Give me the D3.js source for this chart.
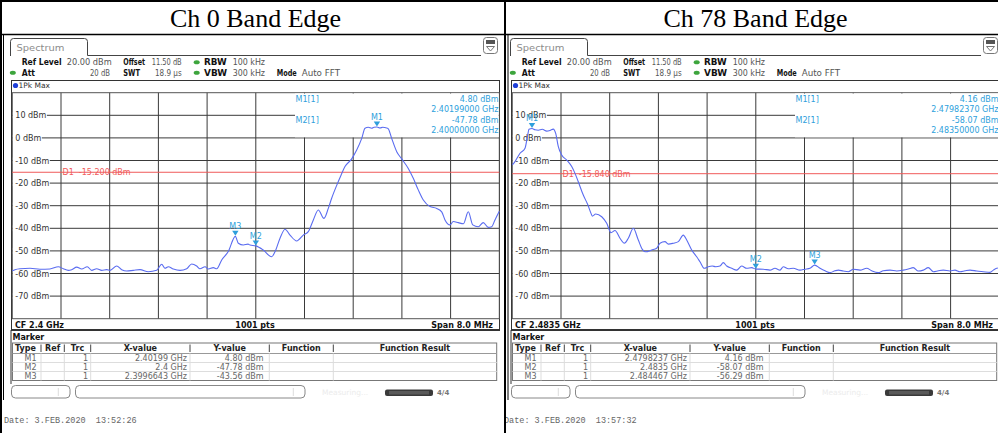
<!DOCTYPE html>
<html><head><meta charset="utf-8">
<script src="https://cdn.jsdelivr.net/npm/d3@7"></script>
<style>
body{margin:0;background:#fff;}
svg{display:block;}
text{font-family:"DejaVu Sans",Verdana,sans-serif;}
</style></head><body>
<svg id="c" width="998" height="433"></svg>
<script>
// ---------------- data ----------------
const titles = ["Ch 0 Band Edge", "Ch 78 Band Edge"];
const cfLabels = ["CF 2.4 GHz", "CF 2.4835 GHz"];
const spanLabel = "Span 8.0 MHz";
const ptsLabel = "1001 pts";
const yTicks = [10, 0, -10, -20, -30, -40, -50, -60, -70];
const xDivs = [-3.2, -2.4, -1.6, -0.8, 0, 0.8, 1.6, 2.4, 3.2]; // MHz offsets from CF
const limitLevels = [-15.2, -15.84];
const limitLabels = ["D1  -15.200 dBm", "D1  -15.840 dBm"];
const dates = ["Date: 3.FEB.2020  13:52:26", "Date: 3.FEB.2020  13:57:32"];
const settingsRow1 = [["Ref Level","20.00 dBm"],["Offset","11.50 dB"],["RBW","100 kHz"]];
const settingsRow2 = [["Att","20 dB"],["SWT","18.9 µs"],["VBW","300 kHz"],["Mode","Auto FFT"]];

// trace 1, [MHz offset from CF, dBm]
const ch0Trace = [
 [-4.0,-58.8],[-3.956,-58.3],[-3.873,-57.9],[-3.709,-57.7],[-3.545,-58.1],[-3.381,-58.0],[-3.244,-57.0],
 [-3.162,-57.9],[-3.080,-58.6],[-3.024,-58.3],[-2.942,-57.2],[-2.860,-58.0],[-2.768,-57.0],[-2.696,-58.6],
 [-2.614,-57.9],[-2.531,-58.6],[-2.449,-58.3],[-2.395,-58.6],[-2.285,-56.7],[-2.203,-58.3],[-2.121,-58.9],
 [-2.012,-58.6],[-1.902,-58.3],[-1.766,-59.2],[-1.628,-58.6],[-1.546,-55.9],[-1.492,-57.7],[-1.437,-57.0],
 [-1.355,-58.0],[-1.245,-58.6],[-1.135,-57.9],[-1.053,-55.8],[-0.971,-56.7],[-0.917,-57.9],[-0.834,-57.0],
 [-0.780,-58.0],[-0.698,-57.4],[-0.642,-57.9],[-0.560,-54.0],[-0.452,-50.3],[-0.336,-43.56],[-0.287,-46.6],
 [-0.205,-47.4],[-0.128,-47.0],[-0.095,-47.4],[0,-47.78],[0.123,-49.6],[0.261,-52.6],[0.315,-50.4],
 [0.398,-44.4],[0.480,-40.4],[0.562,-43.0],[0.672,-45.6],[0.780,-43.0],[0.862,-41.5],[0.945,-36.3],
 [1.027,-31.9],[1.120,-35.6],[1.191,-31.2],[1.245,-26.8],[1.329,-21.0],[1.400,-16.5],[1.465,-12.7],
 [1.575,-9.3],[1.657,-5.4],[1.740,-0.2],[1.794,4.3],[1.848,4.7],[1.904,4.3],[1.942,4.7],[1.990,4.80],
 [2.040,4.4],[2.085,4.7],[2.150,4.4],[2.177,4.0],[2.232,-0.2],[2.315,-6.1],[2.397,-9.3],[2.505,-13.5],
 [2.587,-17.9],[2.669,-23.0],[2.752,-27.5],[2.862,-30.4],[2.972,-31.2],[3.054,-32.7],[3.108,-36.3],
 [3.190,-38.5],[3.244,-37.0],[3.327,-37.5],[3.409,-38.0],[3.491,-32.7],[3.564,-38.5],[3.655,-39.3],
 [3.737,-37.5],[3.819,-39.6],[3.875,-39.3],[3.929,-36.3],[4.0,-32.5]
];
const ch78Trace = [
 [-4.0,-12.0],[-3.956,-10.5],[-3.873,-6.8],[-3.791,-4.6],[-3.747,1.3],[-3.726,3.8],[-3.676,4.16],
 [-3.627,3.6],[-3.573,3.4],[-3.507,3.8],[-3.435,3.0],[-3.381,3.3],[-3.327,3.9],[-3.287,2.0],[-3.244,-3.9],
 [-3.188,-7.6],[-3.106,-9.8],[-3.024,-12.7],[-2.970,-15.7],[-2.916,-19.4],[-2.834,-25.3],[-2.761,-29.5],
 [-2.707,-33.4],[-2.686,-34.6],[-2.630,-33.7],[-2.531,-34.9],[-2.449,-37.8],[-2.379,-41.9],[-2.313,-41.0],
 [-2.231,-44.4],[-2.160,-46.6],[-2.094,-44.4],[-2.012,-40.0],[-1.930,-45.2],[-1.864,-49.3],[-1.809,-50.4],
 [-1.710,-49.6],[-1.628,-48.8],[-1.574,-46.6],[-1.492,-45.9],[-1.437,-47.0],[-1.355,-46.6],[-1.273,-45.9],
 [-1.191,-43.0],[-1.135,-45.2],[-1.053,-49.6],[-0.971,-52.6],[-0.917,-54.8],[-0.846,-57.7],[-0.780,-57.0],
 [-0.715,-56.7],[-0.659,-57.0],[-0.588,-56.7],[-0.534,-55.2],[-0.478,-56.7],[-0.396,-57.7],[-0.314,-58.5],
 [-0.232,-56.7],[-0.149,-57.7],[-0.067,-57.4],[0,-58.07],[0.123,-58.1],[0.233,-58.5],[0.315,-57.7],
 [0.398,-58.5],[0.452,-57.0],[0.534,-57.9],[0.616,-57.7],[0.726,-58.5],[0.808,-58.1],[0.890,-57.7],
 [0.967,-56.29],[1.055,-57.7],[1.137,-58.8],[1.219,-59.6],[1.301,-58.8],[1.355,-58.5],[1.437,-58.9],
 [1.519,-59.2],[1.602,-58.1],[1.712,-58.5],[1.822,-57.7],[1.904,-58.8],[2.012,-59.6],[2.094,-58.8],
 [2.205,-58.5],[2.315,-58.9],[2.423,-58.5],[2.505,-58.0],[2.587,-57.4],[2.669,-58.9],[2.752,-58.5],
 [2.834,-57.4],[2.916,-59.2],[2.998,-58.8],[3.080,-58.5],[3.190,-58.9],[3.272,-58.5],[3.354,-59.2],
 [3.437,-58.8],[3.519,-58.5],[3.629,-58.9],[3.737,-59.2],[3.847,-59.5],[3.902,-58.5],[3.957,-57.7],[4.0,-57.5]
];

// markers: [name, MHz offset, dBm]
const ch0Markers = [["M1",1.99,4.80],["M2",0,-47.78],["M3",-0.3357,-43.56]];
const ch78Markers = [["M1",-3.6763,4.16],["M2",0,-58.07],["M3",0.967,-56.29]];
const ch0MarkerInfo = [["M1[1]","4.80 dBm","2.40199000 GHz"],["M2[1]","-47.78 dBm","2.40000000 GHz"]];
const ch78MarkerInfo = [["M1[1]","4.16 dBm","2.47982370 GHz"],["M2[1]","-58.07 dBm","2.48350000 GHz"]];
const tableHeader = ["Type","Ref","Trc","X-value","Y-value","Function","Function Result"];
const ch0Table = [["M1","","1","2.40199 GHz","4.80 dBm"],["M2","","1","2.4 GHz","-47.78 dBm"],["M3","","1","2.3996643 GHz","-43.56 dBm"]];
const ch78Table = [["M1","","1","2.4798237 GHz","4.16 dBm"],["M2","","1","2.4835 GHz","-58.07 dBm"],["M3","","1","2.484467 GHz","-56.29 dBm"]];

// ---------------- drawing ----------------
const svg = d3.select("#c");
svg.append("rect").attr("width",998).attr("height",433).attr("fill","#fff");

const MARK = "#2e9fdc", TRACE = "#5a6cf0", LIMIT = "#f05a5a";

function txt(g, x, y, s, opt={}) {
  const t = g.append("text").attr("x",x).attr("y",y).text(s)
    .style("font-size",(opt.size||8)+"px")
    .attr("fill",opt.fill||"#333")
    .attr("text-anchor",opt.anchor||"start")
    .style("font-weight",opt.bold?"bold":"normal")
    .style("white-space","pre");
  if (opt.family) t.style("font-family",opt.family);
  if (opt.len) t.attr("textLength",opt.len).attr("lengthAdjust","spacingAndGlyphs");
  return t;
}

// layout of the settings header [labelX, labelW, valueX, valueW]
const setPos1 = [[21.7,40,66.7,45],[123.3,21.7,151.7,30],[204,22.7,232.7,32.3]];
const setPos2 = [[21.7,13.3,90,20],[123.3,16.7,155,26.7],[204,23,232.7,32.3],[276.7,20,301.7,38.3]];

function drawPanel(ox, i, trace, markers, info, table) {
  const g = svg.append("g").attr("transform",`translate(${ox},0)`);
  // title
  txt(g, 255.5, 27, titles[i], {size:26, fill:"#000", anchor:"middle", family:"'Liberation Serif','Times New Roman',serif"});

  // spectrum tab
  g.append("path").attr("d","M10.5,56 V41.5 Q10.5,38.5 13.5,38.5 H84.5 Q87.5,38.5 87.5,41.5 V55.5 H481")
    .attr("fill","none").attr("stroke","#444");
  txt(g, 16.5, 51, "Spectrum", {size:9, fill:"#8c8c8c", len:48});
  // top-right icon
  g.append("rect").attr("x",483.5).attr("y",37.5).attr("width",14).attr("height",16).attr("rx",3)
    .attr("fill","#fff").attr("stroke","#777");
  g.append("rect").attr("x",486).attr("y",40).attr("width",9).attr("height",4).attr("fill","#555");
  g.append("path").attr("d","M486.5,46.5 L494.5,46.5 L490.5,51 Z").attr("fill","none").attr("stroke","#777");

  // settings lines
  const r1 = 65.2, r2 = 75.8;
  settingsRow1.forEach((s,k)=>{
    const p = setPos1[k];
    txt(g, p[0], r1, s[0], {bold:true, fill:"#111", len:p[1]});
    txt(g, p[2], r1, s[1], {fill:"#555", len:p[3]});
  });
  settingsRow2.forEach((s,k)=>{
    const p = setPos2[k];
    txt(g, p[0], r2, s[0], {bold:true, fill:"#111", len:p[1]});
    txt(g, p[2], r2, s[1], {fill:"#555", len:p[3]});
  });
  [[196.7,62.3],[196.7,72.8],[12.8,72.8]].forEach(d=>{
    g.append("ellipse").attr("cx",d[0]).attr("cy",d[1]).attr("rx",3).attr("ry",2).attr("fill","#3da53d");
  });

  // scales
  const x = d3.scaleLinear().domain([-4,4]).range([12.3,499.3]);
  const y = d3.scaleLinear().domain([-80,20]).range([318.7,92.7]);

  // diagram box
  g.append("rect").attr("x",11.5).attr("y",80.5).attr("width",488).attr("height",250)
    .attr("fill","#fff").attr("stroke","#333");
  g.append("circle").attr("cx",15.5).attr("cy",85.5).attr("r",2.6).attr("fill","#1f3fd8");
  txt(g, 18.5, 88.3, "1Pk Max", {size:7.5, fill:"#333"});

  // grid
  const grid = g.append("g");
  grid.selectAll("line.v").data(xDivs).join("line").attr("class","v")
    .attr("x1",d=>x(d)).attr("x2",d=>x(d)).attr("y1",y(20)).attr("y2",y(-80))
    .attr("stroke","#3a3a3a").attr("stroke-width",1);
  grid.selectAll("line.h").data(yTicks).join("line").attr("class","h")
    .attr("x1",x(-4)).attr("x2",x(4)).attr("y1",d=>y(d)).attr("y2",d=>y(d))
    .attr("stroke","#3a3a3a").attr("stroke-width",1);
  grid.append("rect").attr("x",x(-4)).attr("y",y(20)).attr("width",x(4)-x(-4)).attr("height",y(-80)-y(20))
    .attr("fill","none").attr("stroke","#555");

  // marker info area masks grid
  g.append("rect").attr("x",295).attr("y",y(20)+0.8).attr("width",x(4)-295-0.6).attr("height",y(0)-y(20)-1.4)
    .attr("fill","#fff");
  info.forEach((row,k)=>{
    const yy = 101.7 + k*20.8;
    txt(g, 295.5, yy, row[0], {fill:MARK});
    txt(g, 498.5, yy, row[1], {fill:MARK, anchor:"end"});
    txt(g, 498.5, yy+10.4, row[2], {fill:MARK, anchor:"end"});
  });

  // y tick labels with white background
  const labs = g.append("g");
  const ts = yTicks.map(v => txt(labs, 15.3, y(v)+3, v+" dBm", {fill:"#333"}));
  ts.forEach((t,k)=>{
    const w = t.node().getComputedTextLength();
    labs.insert("rect","text").attr("x",x(-4)+0.6).attr("y",y(yTicks[k])-3).attr("width",15.3+w+0.5-x(-4)-0.6)
      .attr("height",6).attr("fill","#fff");
  });

  // limit line
  g.append("line").attr("x1",x(-4)).attr("x2",x(4)).attr("y1",y(limitLevels[i])).attr("y2",y(limitLevels[i]))
    .attr("stroke",LIMIT).attr("stroke-width",1);
  txt(g, 62.5, y(limitLevels[i])+3, limitLabels[i], {fill:LIMIT});

  // trace
  const line = d3.line().x(d=>x(d[0])).y(d=>y(d[1])).curve(d3.curveMonotoneX);
  g.append("path").datum(trace).attr("d",line).attr("fill","none").attr("stroke",TRACE).attr("stroke-width",1.1);

  // markers
  markers.forEach(m=>{
    const mx = x(m[1]), my = y(m[2]);
    g.append("path").attr("d",`M${mx-3.2},${my-5.5} L${mx+3.2},${my-5.5} L${mx},${my-0.5} Z`).attr("fill",MARK);
    txt(g, mx, my-7.2, m[0], {fill:MARK, anchor:"middle"});
  });

  // bottom bar
  g.append("line").attr("x1",11.5).attr("x2",499.5).attr("y1",329.5).attr("y2",329.5).attr("stroke","#333");
  txt(g, 15, 327.5, cfLabels[i], {bold:true, fill:"#111"});
  txt(g, 255, 327.5, ptsLabel, {bold:true, fill:"#111", anchor:"middle"});
  txt(g, 493, 327.5, spanLabel, {bold:true, fill:"#111", anchor:"end"});

  // marker table
  txt(g, 12.5, 340, "Marker", {bold:true, fill:"#111"});
  const cols = [12.5, 41, 64.3, 90.7, 190, 269.3, 333.3, 496.7];
  const top = 343, hh = 10.5, rh = 9;
  g.append("rect").attr("x",12.5).attr("y",top).attr("width",496.7-12.5).attr("height",hh+3*rh)
    .attr("fill","#fff").attr("stroke","#777");
  g.append("line").attr("x1",12.5).attr("x2",496.7).attr("y1",top+hh).attr("y2",top+hh).attr("stroke","#999");
  [1,2].forEach(k=>g.append("line").attr("x1",12.5).attr("x2",496.7).attr("y1",top+hh+k*rh).attr("y2",top+hh+k*rh).attr("stroke","#ddd"));
  cols.slice(1,-1).forEach(c=>{
    g.append("line").attr("x1",c).attr("x2",c).attr("y1",top+1.5).attr("y2",top+hh-1.5).attr("stroke","#444");
    g.append("line").attr("x1",c).attr("x2",c).attr("y1",top+hh).attr("y2",top+hh+3*rh).attr("stroke","#ddd");
  });
  tableHeader.forEach((h,k)=>{
    const cx = k===0 ? 15 : (cols[k]+cols[k+1])/2;
    txt(g, cx, top+8, h, {bold:true, fill:"#222", anchor:k===0?"start":"middle"});
  });
  table.forEach((row,r)=>{
    const yy = top+hh+r*rh+7.3;
    txt(g, 36.5, yy, row[0], {fill:"#666", anchor:"end"});
    txt(g, 88, yy, row[2], {fill:"#666", anchor:"end"});
    txt(g, 187, yy, row[3], {fill:"#666", anchor:"end"});
    txt(g, 263.5, yy, row[4], {fill:"#666", anchor:"end"});
  });
  g.append("line").attr("x1",11).attr("x2",11).attr("y1",330).attr("y2",384).attr("stroke","#333");

  // status bar
  g.append("rect").attr("x",11.5).attr("y",385.5).attr("width",58.5).attr("height",12.5).attr("rx",4)
    .attr("fill","#fff").attr("stroke","#888");
  g.append("line").attr("x1",58.3).attr("x2",58.3).attr("y1",388).attr("y2",396).attr("stroke","#ddd");
  g.append("rect").attr("x",75.5).attr("y",385.5).attr("width",229.5).attr("height",12.5).attr("rx",4)
    .attr("fill","#fff").attr("stroke","#888");
  g.append("line").attr("x1",293.3).attr("x2",293.3).attr("y1",388).attr("y2",396).attr("stroke","#ddd");
  txt(g, 322, 394.5, "Measuring...", {fill:"#ececec", size:7.5});
  g.append("rect").attr("x",385).attr("y",389.5).attr("width",48).attr("height",6.5).attr("rx",2).attr("fill","#3a3a3a");
  g.append("rect").attr("x",389).attr("y",391).attr("width",40).attr("height",3.5).attr("fill","#5a5a5a");
  txt(g, 437, 395, "4/4", {size:7, bold:true, fill:"#777"});

  // date
  txt(g, 4, 423, dates[i], {size:8.5, fill:"#666", family:"'Liberation Mono','Courier New',monospace"});
}

drawPanel(0, 0, ch0Trace, ch0Markers, ch0MarkerInfo, ch0Table);
drawPanel(500, 1, ch78Trace, ch78Markers, ch78MarkerInfo, ch78Table);

// table borders of the page
const B = svg.append("g").attr("stroke","#000").attr("fill","none");
B.append("line").attr("x1",0).attr("x2",998).attr("y1",1).attr("y2",1).attr("stroke-width",2);
B.append("line").attr("x1",0).attr("x2",998).attr("y1",34.5).attr("y2",34.5).attr("stroke-width",1.5);
B.append("line").attr("x1",1).attr("x2",1).attr("y1",0).attr("y2",433).attr("stroke-width",2);
B.append("line").attr("x1",3.5).attr("x2",3.5).attr("y1",35).attr("y2",400).attr("stroke-width",1);
B.append("line").attr("x1",505).attr("x2",505).attr("y1",0).attr("y2",433).attr("stroke-width",2);
B.append("line").attr("x1",508).attr("x2",508).attr("y1",35).attr("y2",400).attr("stroke-width",1);
</script>
</body></html>
